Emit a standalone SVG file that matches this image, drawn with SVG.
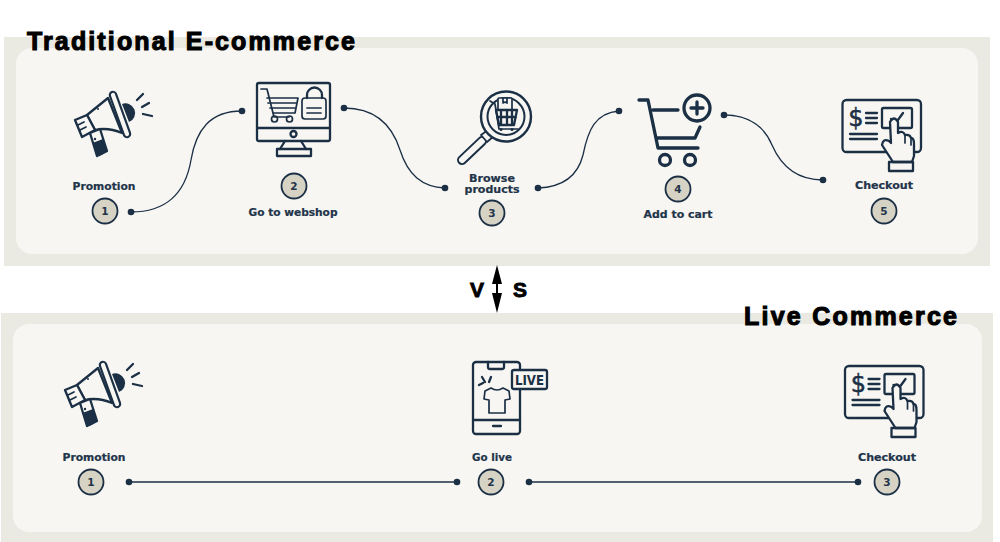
<svg xmlns="http://www.w3.org/2000/svg" width="1000" height="542" viewBox="0 0 1000 542">
<style>
.outer{fill:#eaeae2}
.inner{fill:#f7f6f2}
.ic{fill:none;stroke:#1b2f45;stroke-width:2.300;stroke-linecap:round;stroke-linejoin:round}
.th{stroke-width:1.700}
.hv{stroke-width:3.300}
.bgf{fill:#f7f6f2}
.df{fill:#1b2f45;stroke:none}
.badge{fill:#d6d3c4;stroke:#1b2f45;stroke-width:1.800}
.num{font:bold 10.5px "DejaVu Sans",sans-serif;fill:#22344a;text-anchor:middle}
.lab{font:bold 10px "DejaVu Sans",sans-serif;fill:#22344a;stroke:#22344a;stroke-width:.2;text-anchor:middle}
.title{font:bold 25px "Liberation Sans",Arial,sans-serif;fill:#000;stroke:#000;stroke-width:1.100}
.vs{font:bold 21px "Liberation Sans",Arial,sans-serif;fill:#000;stroke:#000;stroke-width:.9;text-anchor:middle}
.conn{fill:none;stroke:#1b2f45;stroke-width:1.300}
.dot{fill:#1b2f45}
</style>
<defs>
<g id="mega">
<path class="df" d="M122,104A9.500,9.500 0 0 1 129,122Z"/>
<path class="ic bgf" d="M108,98L87,115L95,130Q108,127 122,133Z"/>
<path d="M113,95L127,134" style="fill:none;stroke:#1b2f45;stroke-width:8.500;stroke-linecap:round"/>
<path d="M113,95L127,134" style="stroke:#f7f6f2;stroke-width:4.200;stroke-linecap:round"/>
<path class="ic bgf" d="M75,120L87,115L95,130L82,137Z"/>
<path class="ic th" d="M78,125L84,122M80,130L86,127"/>
<path class="ic bgf" d="M90,133L100,129L107,151L97,156Z"/>
<path class="df" d="M92.500,143L103,139L107,151Q102,156 97,156Z"/>
<circle class="dot" cx="95" cy="139" r="1.200"/>
<circle class="dot" cx="98" cy="109" r="1"/>
<path class="ic" d="M137,100L143,94M142,107L149,103M143,114L152,116"/>
</g>
<g id="pay">
<rect class="ic" x="842.500" y="100" width="78.500" height="52" rx="4"/>
<text x="856" y="126" style="font:24px 'DejaVu Sans',sans-serif;fill:#1b2f45;stroke:#1b2f45;stroke-width:.5;text-anchor:middle">$</text>
<path class="ic" d="M866,113H877M866,118H877M866,123H877M850,134H877M850,139H877"/>
<rect class="ic" x="882" y="108" width="30" height="20" rx="1.500"/>
<path class="ic" d="M891,119L895,124L903,113"/>
<path class="ic bgf" d="M893,162L882,145Q883,138 889,141L891,143L890,122Q894,115 898,122V133Q903,130 905,135Q910,134 911,138Q914,138 914,144V156L912,162Z"/>
<path class="ic th" d="M905,135V143M911,138V145"/>
<rect class="ic" x="889" y="162" width="24" height="9"/>
</g>
</defs>

<g id="panel-top">
<rect class="outer" x="4" y="37" width="986" height="229"/>
<rect class="inner" x="16" y="48" width="962" height="206" rx="16"/>
<text class="title" x="27" y="50" textLength="328" lengthAdjust="spacing">Traditional E-commerce</text>
</g>
<g id="panel-bottom">
<rect class="outer" x="1" y="313" width="992" height="229"/>
<rect class="inner" x="13" y="324" width="969" height="208" rx="16"/>
<text class="title" x="744" y="325" textLength="213" lengthAdjust="spacing">Live Commerce</text>
</g>

<g id="vs">
<text class="vs" x="477" y="297">V</text>
<text class="vs" x="520" y="297">S</text>
<path d="M497,265L502,284H498V293H502L497,313L492,293H496V284H492Z" fill="#000"/>
</g>

<g id="connectors">
<path class="conn" d="M131,212C165,212 185,195 191,160C196,130 210,111 242,111"/>
<path class="conn" d="M344,108C375,108 392,125 400,150C408,175 422,187 445,188"/>
<path class="conn" d="M538,188C565,187 578,175 583,155C588,130 595,113 619,111"/>
<path class="conn" d="M724,115C750,115 765,128 772,145C782,168 798,180 823,180"/>
<path class="conn" d="M129,482H457"/>
<path class="conn" d="M529,482H858"/>
<g class="dot">
<circle cx="131" cy="212" r="3.300"/><circle cx="242" cy="111" r="3.300"/>
<circle cx="344" cy="108" r="3.300"/><circle cx="445" cy="188" r="3.300"/>
<circle cx="538" cy="188" r="3.300"/><circle cx="619" cy="111" r="3.300"/>
<circle cx="724" cy="115" r="3.300"/><circle cx="823" cy="180" r="3.300"/>
<circle cx="129" cy="482" r="3.300"/><circle cx="457" cy="482" r="3.300"/>
<circle cx="529" cy="482" r="3.300"/><circle cx="858" cy="482" r="3.300"/>
</g>
</g>

<g id="t1">
<use href="#mega"/>
<text class="lab" x="104" y="190" textLength="63" lengthAdjust="spacingAndGlyphs">Promotion</text>
<circle class="badge" cx="105" cy="211" r="12.500"/><text class="num" x="105" y="215">1</text>
</g>
<g id="t2">
<rect class="ic" x="257" y="83" width="73" height="58" rx="2"/>
<path class="ic" d="M257,128H330"/>
<circle class="ic" cx="293.500" cy="134" r="3"/>
<path class="ic" d="M285,141L280,149M301,141L306,149"/>
<rect class="ic" x="277" y="149" width="34" height="7"/>
<path class="ic th" d="M261,89H267L274,117H289M267,98H298L295,113H273"/>
<path class="ic th" d="M268,103H296M270,108H295"/>
<circle class="ic th" cx="274.500" cy="119" r="3"/><circle class="ic th" cx="289.500" cy="119" r="3"/>
<rect class="ic th" x="302" y="98" width="24" height="21" rx="3"/>
<path class="ic" d="M307,98V95A7.500,7.500 0 0 1 322,95V98"/>
<path class="ic th" d="M307,108H321M307,113H321"/>
<text class="lab" x="293" y="216" textLength="89" lengthAdjust="spacingAndGlyphs">Go to webshop</text>
<circle class="badge" cx="294" cy="186" r="12.500"/><text class="num" x="294" y="190">2</text>
</g>
<g id="t3">
<path d="M462,160L482,141" style="stroke:#1b2f45;stroke-width:10;stroke-linecap:round"/>
<path d="M462,160L482,141" style="stroke:#f7f6f2;stroke-width:6;stroke-linecap:round"/>
<path class="ic bgf" d="M481,135L488,130L494,136L487,142Z" style="stroke-width:1.800"/>
<circle class="ic bgf" cx="506" cy="116.500" r="25" style="stroke-width:2.400"/>
<circle class="ic" cx="506" cy="116.500" r="18.500" style="stroke-width:2"/>
<rect class="ic bgf th" x="498" y="98" width="14" height="12" rx="1"/>
<path class="ic th" d="M503,98V103L505,102L507,103V98"/>
<path class="ic" d="M496,110H517L514,125H499ZM501,110V125M507,110V125M512,110V125M497,117H516"/>
<path class="ic th" d="M490,101L495,104L499,129H518"/>
<circle class="dot" cx="501" cy="129.500" r="1.500"/><circle class="dot" cx="512" cy="129.500" r="1.500"/>
<text class="lab" x="492" y="182" textLength="46" lengthAdjust="spacingAndGlyphs">Browse</text>
<text class="lab" x="492" y="193" textLength="55" lengthAdjust="spacingAndGlyphs">products</text>
<circle class="badge" cx="492" cy="213" r="12.500"/><text class="num" x="492" y="217">3</text>
</g>
<g id="t4">
<path class="ic hv" d="M639,100H648L658,148H698M653,110H678M657,138H695L700,127"/>
<circle class="ic hv" cx="665" cy="160" r="5.500"/><circle class="ic hv" cx="690" cy="160" r="5.500"/>
<circle class="ic hv" cx="697" cy="108" r="13"/>
<path class="ic hv" d="M697,102V114M691,108H703"/>
<text class="lab" x="678" y="218" textLength="69" lengthAdjust="spacingAndGlyphs">Add to cart</text>
<circle class="badge" cx="678" cy="189" r="12.500"/><text class="num" x="678" y="193">4</text>
</g>
<g id="t5">
<use href="#pay"/>
<text class="lab" x="884" y="189" textLength="58" lengthAdjust="spacingAndGlyphs">Checkout</text>
<circle class="badge" cx="884" cy="211" r="12.500"/><text class="num" x="884" y="215">5</text>
</g>

<g id="l1">
<use href="#mega" transform="translate(-10,270)"/>
<text class="lab" x="94" y="461" textLength="63" lengthAdjust="spacingAndGlyphs">Promotion</text>
<circle class="badge" cx="91" cy="482" r="12.500"/><text class="num" x="91" y="486">1</text>
</g>
<g id="l2">
<rect class="ic" x="473" y="362" width="47" height="72" rx="3"/>
<path class="ic" d="M488,362V367Q488,369 490,369H502Q504,369 504,367V362M473,420H520M493,426H501"/>
<path class="ic" d="M491,388L485,391L484,399L489,400V413H505V400L510,399L509,391L503,388Q497,392 491,388Z" style="stroke-width:1.700"/>
<path class="ic" d="M479,385L483,383M482,377L485,382M491,377L489,382"/>
<rect class="ic bgf" x="512" y="370" width="35" height="19" rx="2"/>
<text x="529.500" y="385" textLength="29" lengthAdjust="spacingAndGlyphs" style="font:bold 14px 'DejaVu Sans Condensed','DejaVu Sans',sans-serif;fill:#1b2f45;text-anchor:middle">LIVE</text>
<text class="lab" x="492" y="461" textLength="40" lengthAdjust="spacingAndGlyphs">Go live</text>
<circle class="badge" cx="491" cy="482" r="12.500"/><text class="num" x="491" y="486">2</text>
</g>
<g id="l3">
<use href="#pay" transform="translate(2.500,266)"/>
<text class="lab" x="887" y="461" textLength="58" lengthAdjust="spacingAndGlyphs">Checkout</text>
<circle class="badge" cx="887" cy="482" r="12.500"/><text class="num" x="887" y="486">3</text>
</g>
</svg>
